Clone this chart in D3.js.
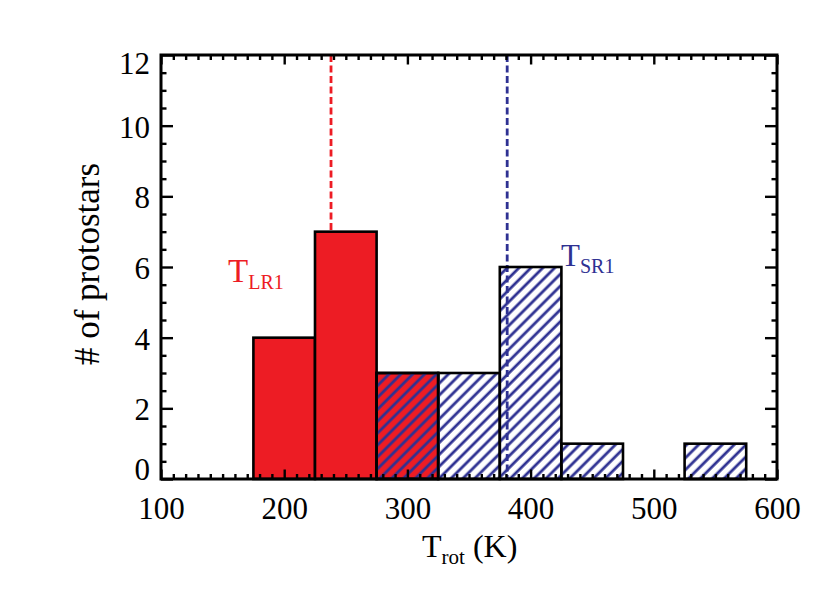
<!DOCTYPE html>
<html>
<head>
<meta charset="utf-8">
<script src="https://cdn.jsdelivr.net/npm/d3@7"></script>
<style>
  html, body { margin: 0; padding: 0; background: #fff; }
  svg { display: block; }
  text { font-family: "Liberation Serif", "Times New Roman", Times, serif; }
</style>
</head>
<body>
<svg id="chart" width="830" height="593"></svg>
<script>
// ---- data ----
const binWidth = 50;
const lrBinStarts = [175, 225, 275];
const lrCounts = [4, 7, 3];
const srBinStarts = [275, 325, 375, 425, 475, 525];
const srCounts = [3, 3, 6, 1, 0, 1];
const lrMean = 238;
const srMean = 381;
const xMajorTicks = [100, 200, 300, 400, 500, 600];
const yMajorTicks = [0, 2, 4, 6, 8, 10, 12];

const RED = "#ed1c24", BLUE = "#2e3192";
const FONT = "'Liberation Serif', 'Times New Roman', Times, serif";

const svg = d3.select("#chart");
const L = 161, R = 777, T = 55, B = 479;
const x = d3.scaleLinear().domain([100, 600]).range([L, R]);
const y = d3.scaleLinear().domain([0, 12]).range([B, T]);

// hatch pattern
const defs = svg.append("defs");
const pat = defs.append("pattern")
  .attr("id", "hatch").attr("patternUnits", "userSpaceOnUse")
  .attr("width", 8.4).attr("height", 8.4)
  .attr("patternTransform", "rotate(45)");
pat.append("line").attr("x1", 2).attr("y1", 0).attr("x2", 2).attr("y2", 8.4)
  .attr("stroke", BLUE).attr("stroke-width", 2.8);

// dashed mean lines (behind bars)
svg.append("line").attr("x1", x(lrMean)).attr("x2", x(lrMean))
  .attr("y1", y(12)).attr("y2", y(0))
  .attr("stroke", RED).attr("stroke-width", 2.8).attr("stroke-dasharray", "7,3.5");
svg.append("line").attr("x1", x(srMean)).attr("x2", x(srMean))
  .attr("y1", y(12)).attr("y2", y(0))
  .attr("stroke", BLUE).attr("stroke-width", 2.8).attr("stroke-dasharray", "7,3.5");

// red histogram
const lrData = lrBinStarts.map((s, i) => ({ s, c: lrCounts[i] }));
svg.append("g").selectAll("rect").data(lrData).join("rect")
  .attr("x", d => x(d.s)).attr("width", d => x(d.s + binWidth) - x(d.s))
  .attr("y", d => y(d.c)).attr("height", d => y(0) - y(d.c))
  .attr("fill", RED).attr("stroke", "#000").attr("stroke-width", 2.6);

// blue hatched histogram
const srData = srBinStarts.map((s, i) => ({ s, c: srCounts[i] })).filter(d => d.c > 0);
svg.append("g").selectAll("rect").data(srData).join("rect")
  .attr("x", d => x(d.s)).attr("width", d => x(d.s + binWidth) - x(d.s))
  .attr("y", d => y(d.c)).attr("height", d => y(0) - y(d.c))
  .attr("fill", "url(#hatch)").attr("stroke", "#000").attr("stroke-width", 2.6);

// axes ticks
const xMinor = d3.range(100, 601, 10).filter(v => v % 100 !== 0);
const yMinor = d3.range(0, 12.01, 0.5).filter(v => v % 2 !== 0);

function styleAxis(g) {
  g.select(".domain").remove();
  g.selectAll(".tick line").attr("stroke", "#000").attr("stroke-width", 2.4);
}
const fontSize = 31;

// bottom
const gxb = svg.append("g").attr("transform", `translate(0,${B})`)
  .call(d3.axisBottom(x).tickValues(xMajorTicks).tickSize(-9.5).tickPadding(18).tickFormat(d3.format("d")));
styleAxis(gxb);
gxb.attr("font-family", FONT);
gxb.selectAll("text").attr("font-size", fontSize).attr("fill", "#000").attr("font-family", FONT);
svg.append("g").attr("transform", `translate(0,${B})`)
  .call(d3.axisBottom(x).tickValues(xMinor).tickSize(-5).tickFormat("")).call(styleAxis);
// top
svg.append("g").attr("transform", `translate(0,${T})`)
  .call(d3.axisTop(x).tickValues(xMajorTicks).tickSize(-9.5).tickFormat("")).call(styleAxis);
svg.append("g").attr("transform", `translate(0,${T})`)
  .call(d3.axisTop(x).tickValues(xMinor).tickSize(-5).tickFormat("")).call(styleAxis);
// left
const gyl = svg.append("g").attr("transform", `translate(${L},0)`)
  .call(d3.axisLeft(y).tickValues(yMajorTicks).tickSize(-12).tickPadding(11).tickFormat(d3.format("d")));
styleAxis(gyl);
gyl.attr("font-family", FONT);
gyl.selectAll("text").attr("font-size", fontSize).attr("fill", "#000").attr("font-family", FONT)
  .attr("y", d => d === 12 ? 9 : (d === 0 ? -9 : 1.5));
svg.append("g").attr("transform", `translate(${L},0)`)
  .call(d3.axisLeft(y).tickValues(yMinor).tickSize(-5.5).tickFormat("")).call(styleAxis);
// right
svg.append("g").attr("transform", `translate(${R},0)`)
  .call(d3.axisRight(y).tickValues(yMajorTicks).tickSize(-12).tickFormat("")).call(styleAxis);
svg.append("g").attr("transform", `translate(${R},0)`)
  .call(d3.axisRight(y).tickValues(yMinor).tickSize(-5.5).tickFormat("")).call(styleAxis);

// frame
svg.append("rect").attr("x", L).attr("y", T).attr("width", R - L).attr("height", B - T)
  .attr("fill", "none").attr("stroke", "#000").attr("stroke-width", 3);

// annotations
const lr = svg.append("text").attr("x", 228).attr("y", 282).attr("fill", RED).attr("font-size", 33);
lr.append("tspan").text("T");
lr.append("tspan").attr("font-size", 20).attr("dy", 7).text("LR1");
const sr = svg.append("text").attr("x", 561).attr("y", 266).attr("fill", BLUE).attr("font-size", 31);
sr.append("tspan").text("T");
sr.append("tspan").attr("font-size", 20).attr("dy", 7).text("SR1");

// axis titles
const xt = svg.append("text").attr("x", 422).attr("y", 557).attr("fill", "#000").attr("font-size", 32);
xt.append("tspan").text("T");
xt.append("tspan").attr("font-size", 21).attr("dy", 7).text("rot");
xt.append("tspan").attr("dy", -7).text(" (K)");

svg.append("text").attr("transform", "translate(99,264) rotate(-90)")
  .attr("text-anchor", "middle").attr("fill", "#000").attr("font-size", 35)
  .text("# of protostars");
</script>
</body>
</html>
